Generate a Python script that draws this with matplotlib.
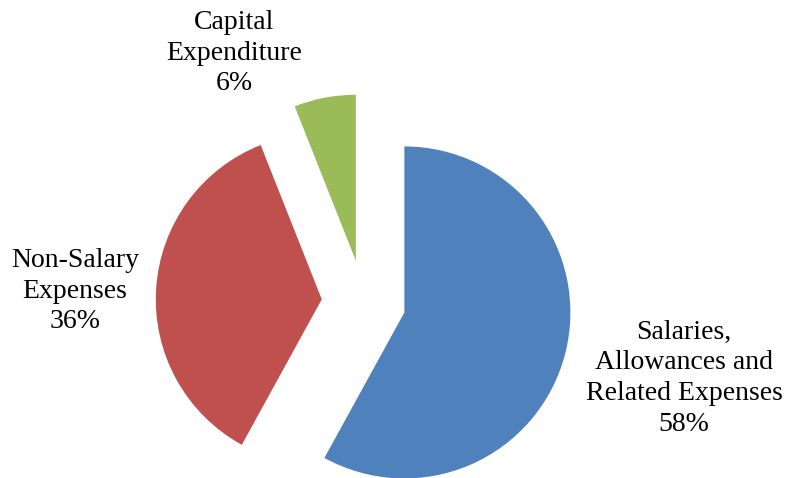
import matplotlib
matplotlib.use("Agg")
import matplotlib.pyplot as plt

# Expenditure breakdown
categories = ["Salaries,\nAllowances and\nRelated Expenses", "Non-Salary\nExpenses", "Capital\nExpenditure"]
shares = [58, 36, 6]
colors = ["#4F81BD", "#C0504D", "#9BBB59"]

W, H = 786, 478
fig = plt.figure(figsize=(W / 100, H / 100), dpi=100)
ax = fig.add_axes([0, 0, 1, 1])

center = (363.7, 176.0)
radius = 166.0
gap = 42.0

ax.pie(shares, colors=colors, startangle=90, counterclock=False,
       radius=radius, center=center, explode=[gap] * len(shares),
       wedgeprops=dict(linewidth=0), frame=False)

ax.set_xlim(0, W)
ax.set_ylim(0, H)
ax.set_aspect("equal")
ax.axis("off")

label_pos = [(684, 100), (75, 187), (234, 425)]
for name, val, (lx, ly) in zip(categories, shares, label_pos):
    ax.text(lx, ly, f"{name}\n{val}%", ha="center", va="center",
            fontsize=20, family="Liberation Serif", color="#000000",
            linespacing=1.3)

fig.savefig("out.png", dpi=100)
